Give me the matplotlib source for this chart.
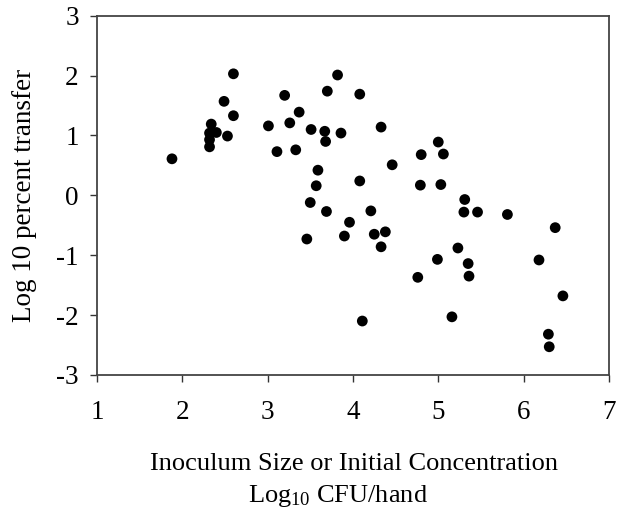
import matplotlib
matplotlib.use("Agg")
import matplotlib.pyplot as plt

plt.rcParams["font.family"] = ["Liberation Serif", "DejaVu Serif"]
plt.rcParams["mathtext.fontset"] = "custom"
plt.rcParams["mathtext.rm"] = "Liberation Serif"
plt.rcParams["mathtext.default"] = "regular"
plt.rcParams["axes.unicode_minus"] = False

# inoculum size (log10 CFU/hand)
inoculum = [1.88, 2.60, 2.49, 2.60, 2.34, 2.32, 2.40, 2.32, 2.32, 2.53,
            3.01, 3.11, 3.20, 3.26, 3.37, 3.33, 3.51, 3.67, 3.68, 3.70,
            3.82, 3.86, 3.59, 3.57, 3.50, 4.08, 4.33, 5.00, 4.80, 5.06,
            4.46, 4.08, 4.79, 5.03, 5.31, 3.69, 3.96, 3.46, 3.90, 4.11,
            5.30, 5.46, 5.81, 4.21, 4.25, 4.38, 4.33, 6.37, 5.23, 4.99,
            5.35, 5.36, 4.76, 6.18, 6.46, 5.16, 6.29, 6.30]
# log10 percent transfer
transfer = [0.61, 2.03, 1.57, 1.33, 1.19, 1.04, 1.05, 0.93, 0.81, 0.99,
            1.16, 0.73, 1.67, 1.21, 1.39, 0.76, 1.10, 1.07, 0.90, 1.74,
            2.01, 1.04, 0.42, 0.16, -0.12, 1.69, 1.14, 0.89, 0.68, 0.69,
            0.51, 0.24, 0.17, 0.18, -0.07, -0.27, -0.45, -0.73, -0.68, -2.10,
            -0.28, -0.28, -0.32, -0.26, -0.65, -0.61, -0.86, -0.54, -0.88, -1.07,
            -1.14, -1.35, -1.37, -1.08, -1.68, -2.03, -2.32, -2.53]

fig = plt.figure(figsize=(6.17, 5.08), dpi=100)
ax = fig.add_axes([0.157, 0.262, 0.83, 0.707])

ax.scatter(inoculum, transfer, s=60, color="black", edgecolors="none", zorder=3)

ax.set_xlim(1, 7)
ax.set_ylim(-3, 3)
ax.set_xticks(range(1, 8))
ax.set_yticks(range(-3, 4))
ax.tick_params(direction="out", length=5, width=1, colors="#333333",
               labelcolor="black", labelsize=19.5)
ax.tick_params(axis="x", pad=13)
ax.tick_params(axis="y", pad=8)
for sp in ax.spines.values():
    sp.set_color("#444444")
    sp.set_linewidth(1.3)

ax.set_ylabel("Log 10 percent transfer", fontsize=19.5, labelpad=14)
fig.text(0.573, 0.087, "Inoculum Size or Initial Concentration",
         ha="center", va="center", fontsize=19)
fig.text(0.548, 0.024, r"Log$_{10}$ CFU/hand", ha="center", va="center", fontsize=19)

plt.savefig("out.png", dpi=100)
